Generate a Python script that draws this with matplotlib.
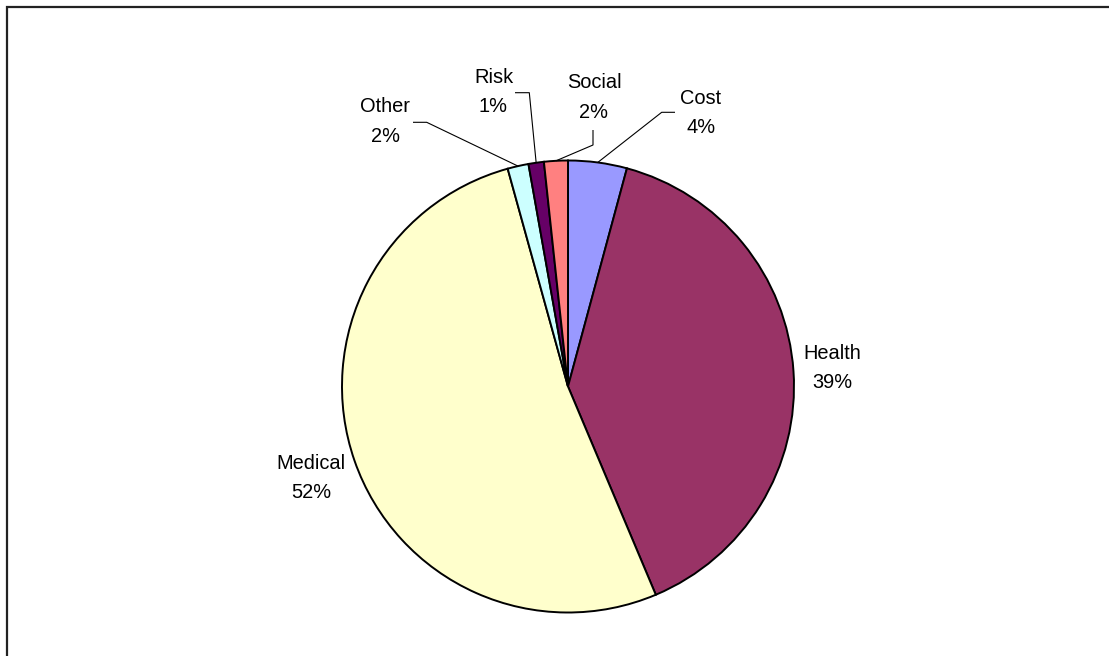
import numpy as np
import matplotlib
matplotlib.use("Agg")
import matplotlib.pyplot as plt
from matplotlib.lines import Line2D
from matplotlib.patches import Rectangle

# ---- data (clockwise from 12 o'clock) ----
categories = ["Cost", "Health", "Medical", "Other", "Risk", "Social"]
values = [4.2, 39.45, 52.05, 1.5, 1.1, 1.7]
colors = ["#9999FF", "#993366", "#FFFFCC", "#CCFFFF", "#660066", "#FF8080"]

# ---- layout (pixel coordinates, origin top-left) ----
W, H = 1109, 656
center_px = (568, 386.5)
radius_px = 226
# label: (x centre, baseline of first line), leader elbow points (or None)
label_layout = {
    "Cost":    ((701, 103.5), [(661.7, 112.3), (675, 112.3)]),
    "Health":  ((832.5, 359), None),
    "Medical": ((311, 469), None),
    "Other":   ((385, 112.5), [(426.7, 122.3), (413, 122.3)]),
    "Risk":    ((493.5, 83), [(529.3, 92.7), (515, 92.7)]),
    "Social":  ((594, 88), [(593, 145), (593, 130)]),
}
line_gap = 29.5
font_size = 14.4


def px(x, y):
    return x, H - y


plt.rcParams["font.family"] = ["Liberation Sans", "DejaVu Sans"]
fig = plt.figure(figsize=(W / 100, H / 100), dpi=100)
fig.patch.set_facecolor("white")
ax = fig.add_axes([0, 0, 1, 1])

wedges, _ = ax.pie(
    values,
    colors=colors,
    startangle=90,
    counterclock=False,
    center=px(*center_px),
    radius=radius_px,
    wedgeprops=dict(edgecolor="black", linewidth=1.4),
)
ax.set_xlim(0, W)
ax.set_ylim(0, H)
ax.set_aspect("equal")
ax.axis("off")

total = sum(values)
cx, cy = px(*center_px)
for w, cat, v in zip(wedges, categories, values):
    (lx, ly), elbow = label_layout[cat]
    pct = f"{v / total * 100:.0f}%"
    ax.text(*px(lx, ly), cat, ha="center", va="baseline", fontsize=font_size)
    ax.text(*px(lx, ly + line_gap), pct, ha="center", va="baseline", fontsize=font_size)
    if elbow:
        mid = np.deg2rad((w.theta1 + w.theta2) / 2)
        sx = cx + radius_px * np.cos(mid)
        sy = cy + radius_px * np.sin(mid)
        xs = [sx] + [px(*p)[0] for p in elbow]
        ys = [sy] + [px(*p)[1] for p in elbow]
        ax.plot(xs, ys, color="black", linewidth=0.8, solid_capstyle="butt")

# chart-area border (left and top visible; extends past right/bottom)
fig.add_artist(Rectangle((6.5 / W, -0.1), 1.2, 1.1 - 6.5 / H + 0.0,
                         transform=fig.transFigure, fill=False,
                         edgecolor="#222222", linewidth=1.6))

fig.savefig("out.png", dpi=100)
